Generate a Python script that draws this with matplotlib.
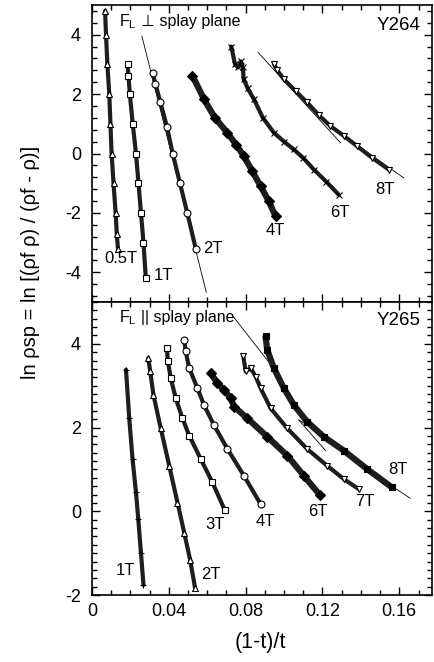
import matplotlib
matplotlib.use("Agg")
import matplotlib.pyplot as plt
from matplotlib.ticker import MultipleLocator, FuncFormatter

"""
Y264 / Y265 两个样品的 ln(rho_sp) 对 (1-t)/t 作图
上图: F_L 垂直于 splay plane, 下图: F_L 平行于 splay plane
"""

plt.rcParams['font.family'] = ['Liberation Sans', 'DejaVu Sans']
plt.rcParams['axes.unicode_minus'] = False
plt.rcParams['mathtext.fontset'] = 'custom'
plt.rcParams['mathtext.rm'] = 'Liberation Sans'

# ---------------- 上图 Y264 ----------------
top_05T_x = [0.0068, 0.0073, 0.0080, 0.0090, 0.0096, 0.0102, 0.0112, 0.0123, 0.0129, 0.0135]
top_05T_y = [4.8, 4.0, 3.0, 2.0, 1.0, 0.0, -1.0, -2.0, -2.7, -3.2]
top_1T_x = [0.0185, 0.0190, 0.0197, 0.0212, 0.0229, 0.0242, 0.0255, 0.0268, 0.0280]
top_1T_y = [3.0, 2.6, 2.0, 1.0, 0.0, -1.0, -2.0, -3.0, -4.2]
top_2T_x = [0.0315, 0.0330, 0.0355, 0.0390, 0.0420, 0.0458, 0.0496, 0.0540]
top_2T_y = [2.7, 2.35, 1.75, 0.9, 0.0, -1.0, -2.0, -3.2]
top_4T_x = [0.0523, 0.0583, 0.0640, 0.0705, 0.0750, 0.0791, 0.0835, 0.0878, 0.0920, 0.0956]
top_4T_y = [2.62, 1.83, 1.2, 0.7, 0.3, -0.09, -0.6, -1.1, -1.6, -2.12]
top_6T_x = [0.0725, 0.0745, 0.0760, 0.0775, 0.0785, 0.0790, 0.0810, 0.0843, 0.0890,
            0.0947, 0.1000, 0.1050, 0.1100, 0.1155, 0.1220, 0.1285]
top_6T_y = [3.6, 3.0, 2.9, 3.1, 2.9, 2.5, 2.2, 1.83, 1.2, 0.7, 0.4, 0.14, -0.15, -0.54, -0.95, -1.39]
top_8T_x = [0.0947, 0.0965, 0.0999, 0.1060, 0.1120, 0.1180, 0.1240, 0.1310, 0.1380, 0.1460, 0.1545]
top_8T_y = [3.02, 2.8, 2.5, 2.1, 1.72, 1.3, 0.93, 0.6, 0.25, -0.15, -0.54]

# 拟合直线 (端点)
top_fit_2T = ([0.026, 0.0595], [3.95, -4.67])
top_fit_8T_a = ([0.0864, 0.1294], [3.41, 0.36])
top_fit_8T_b = ([0.124, 0.1623], [0.93, -0.82])

# ---------------- 下图 Y265 ----------------
bot_1T_x = [0.0177, 0.0194, 0.0211, 0.0229, 0.0241, 0.0255, 0.0268]
bot_1T_y = [3.38, 2.22, 1.25, 0.45, -0.19, -1.0, -1.76]
bot_2T_x = [0.0293, 0.0303, 0.0320, 0.0358, 0.0402, 0.0445, 0.0480, 0.0511, 0.0537]
bot_2T_y = [3.66, 3.34, 2.78, 1.98, 1.09, 0.21, -0.51, -1.16, -1.84]
bot_3T_x = [0.0390, 0.0395, 0.0410, 0.0436, 0.0471, 0.0506, 0.0566, 0.0627, 0.0691]
bot_3T_y = [3.9, 3.58, 3.18, 2.7, 2.22, 1.81, 1.25, 0.69, 0.03]
bot_4T_x = [0.0480, 0.0488, 0.0506, 0.0549, 0.0583, 0.0635, 0.0705, 0.0791, 0.0878]
bot_4T_y = [4.1, 3.82, 3.42, 2.94, 2.54, 2.06, 1.49, 0.85, 0.17]
bot_6T_x = [0.0618, 0.0653, 0.0688, 0.0722, 0.0740, 0.0809, 0.0913, 0.1017, 0.1103, 0.1186]
bot_6T_y = [3.3, 3.06, 2.9, 2.7, 2.5, 2.22, 1.78, 1.33, 0.85, 0.39]
bot_7T_x = [0.0788, 0.0800, 0.0826, 0.0852, 0.0878, 0.0930, 0.1017, 0.1120, 0.1224, 0.1311, 0.1389]
bot_7T_y = [3.7, 3.34, 3.42, 3.22, 2.94, 2.46, 1.98, 1.49, 1.09, 0.77, 0.53]
bot_8T_x = [0.0904, 0.0912, 0.0947, 0.0999, 0.1051, 0.1120, 0.1207, 0.1311, 0.1432, 0.1562]
bot_8T_y = [4.18, 3.86, 3.42, 2.94, 2.54, 2.14, 1.78, 1.45, 1.01, 0.57]

bot_fit_a = ([0.0739, 0.0940], [4.63, 3.45])
bot_fit_b = ([0.1077, 0.1216], [2.18, 1.45])
bot_fit_c = ([0.1077, 0.1164], [2.18, 1.94])
bot_fit_d = ([0.1480, 0.1657], [0.85, 0.31])

x_ticks = [0, 0.04, 0.08, 0.12, 0.16]


def draw_series(ax, x, y, marker, filled=False):
    """画一组数据: 粗线模拟密集的数据点 + 标记"""
    lw = 4.5 if filled else 3.0
    ax.plot(x, y, '-', color='#1e1e1e', lw=lw, solid_capstyle='round', zorder=2)
    ax.plot(x, y, marker, ls='none', ms=5, mec='k', mew=0.8,
            mfc='k' if filled else 'white', zorder=3)


def draw_fit(ax, line):
    ax.plot(line[0], line[1], '-', color='k', lw=0.6, zorder=1)


def draw_fl_label(ax, x, y, rest):
    """F_L + 其余文字, 分两段写 (mathtext 里没有 ⊥ 字形)"""
    t = ax.text(x, y, r"F$_\mathregular{L}$", fontsize=11.5, va='center', ha='left')
    ax.annotate(rest, xy=(1, 0.5), xycoords=t, xytext=(3, 0), textcoords='offset points',
                fontsize=11.5, va='center', ha='left',
                family=['Liberation Sans', 'DejaVu Sans'])


def fmt_tick(v, pos):
    if abs(v) < 1e-9:
        return "0"
    return "%.2f" % v


def style_axes(ax, ymin, ymax, yminor):
    ax.set_xlim(0, 0.177)
    ax.set_ylim(ymin, ymax)
    ax.set_xticks(x_ticks)
    ax.xaxis.set_minor_locator(MultipleLocator(0.01))
    ax.yaxis.set_major_locator(MultipleLocator(2))
    ax.yaxis.set_minor_locator(MultipleLocator(yminor))
    ax.xaxis.set_major_formatter(FuncFormatter(fmt_tick))
    ax.yaxis.set_major_formatter(FuncFormatter(lambda v, p: "%d" % round(v)))
    ax.tick_params(which='both', direction='in', top=True, right=True, width=1.0)
    ax.tick_params(which='major', length=6, labelsize=13)
    ax.tick_params(which='minor', length=3.5)
    ax.tick_params(axis='y', pad=8)
    ax.tick_params(axis='x', pad=6)
    for s in ax.spines.values():
        s.set_linewidth(1.2)


fig = plt.figure(figsize=(4.35, 6.62), dpi=100)
ax1 = fig.add_axes([0.2115, 0.5438, 0.7815, 0.4486])
ax2 = fig.add_axes([0.2115, 0.1012, 0.7815, 0.4426])

# 上图
draw_fit(ax1, top_fit_2T)
draw_fit(ax1, top_fit_8T_a)
draw_fit(ax1, top_fit_8T_b)
draw_series(ax1, top_05T_x, top_05T_y, '^')
draw_series(ax1, top_1T_x, top_1T_y, 's')
draw_series(ax1, top_2T_x, top_2T_y, 'o')
draw_series(ax1, top_4T_x, top_4T_y, 'D', filled=True)
draw_series(ax1, top_6T_x, top_6T_y, 'x')
draw_series(ax1, top_8T_x, top_8T_y, 'v')
style_axes(ax1, -5, 5, 0.4)
ax1.tick_params(labelbottom=False)

lab = dict(fontsize=12, va='center', ha='left')
ax1.text(0.0062, -3.53, "0.5T", **lab)
ax1.text(0.032, -4.1, "1T", **lab)
ax1.text(0.058, -3.2, "2T", **lab)
ax1.text(0.0904, -2.58, "4T", **lab)
ax1.text(0.124, -2.0, "6T", **lab)
ax1.text(0.1475, -1.22, "8T", **lab)
draw_fl_label(ax1, 0.014, 4.44, "⊥ splay plane")
ax1.text(0.171, 4.3, "Y264", fontsize=13.5, va='center', ha='right')

# 下图
draw_fit(ax2, bot_fit_a)
draw_fit(ax2, bot_fit_b)
draw_fit(ax2, bot_fit_c)
draw_fit(ax2, bot_fit_d)
draw_series(ax2, bot_1T_x, bot_1T_y, '+')
draw_series(ax2, bot_2T_x, bot_2T_y, '^')
draw_series(ax2, bot_3T_x, bot_3T_y, 's')
draw_series(ax2, bot_4T_x, bot_4T_y, 'o')
draw_series(ax2, bot_6T_x, bot_6T_y, 'D', filled=True)
draw_series(ax2, bot_7T_x, bot_7T_y, 'v')
draw_series(ax2, bot_8T_x, bot_8T_y, 's', filled=True)
style_axes(ax2, -2, 5, 0.2)

ax2.text(0.0125, -1.42, "1T", **lab)
ax2.text(0.0566, -1.52, "2T", **lab)
ax2.text(0.059, -0.31, "3T", **lab)
ax2.text(0.085, -0.24, "4T", **lab)
ax2.text(0.1127, 0.0, "6T", **lab)
ax2.text(0.137, 0.24, "7T", **lab)
ax2.text(0.154, 1.01, "8T", **lab)
draw_fl_label(ax2, 0.014, 4.62, "|| splay plane")
ax2.text(0.171, 4.55, "Y265", fontsize=13.5, va='center', ha='right')

fig.text(0.069, 0.603, "ln ρsp = ln [(ρf ρ) / (ρf - ρ)]", rotation=90,
         fontsize=14.5, ha='center', va='center')
fig.text(0.598, 0.029, "(1-t)/t", fontsize=15.5, ha='center', va='center')

fig.savefig("out.png", dpi=100)
